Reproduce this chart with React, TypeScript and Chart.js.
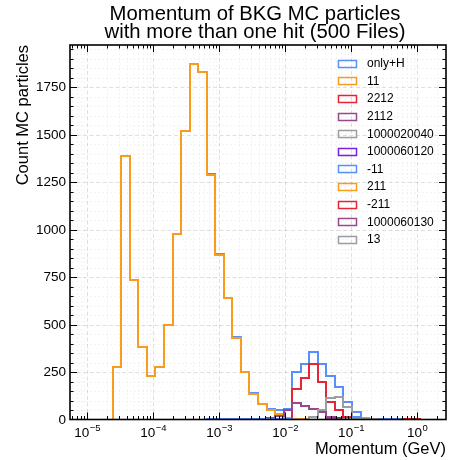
import React, { useEffect, useRef } from "react";
import { Chart, registerables } from "chart.js";

Chart.register(...registerables);

// ---- histogram binning (np.logspace-like) ----
const BIN_LOG_MIN = -5;
const BIN_LOG_MAX = 0.18;
const N_BINS = 40;

// ---- axis limits ----
const X_LOG_MIN = -5.259;
const X_LOG_MAX = 0.439;
const Y_MAX = 1972;

// ---- texts ----
const titleLines = ["Momentum of BKG MC particles", "with more than one hit (500 Files)"];
const xLabel = "Momentum (GeV)";
const yLabel = "Count MC particles";
const yTicks = [0, 250, 500, 750, 1000, 1250, 1500, 1750];
const xTickExponents = [-5, -4, -3, -2, -1, 0];

// ---- series ----
const seriesLabels = [
  "only+H", "11", "2212", "2112", "1000020040", "1000060120",
  "-11", "211", "-211", "1000060130", "13",
];
const seriesColors = [
  "#5790fc", "#f89c20", "#e42536", "#964a8b", "#9c9ca1", "#7a21dd",
  "#5790fc", "#f89c20", "#e42536", "#964a8b", "#9c9ca1",
];

// counts per bin (40 bins)
const countsOnlyH = [
  0, 0, 0, 279, 1389, 734, 381, 231, 278, 498,
  977, 1520, 1873, 1829, 1294, 871, 640, 433, 252, 137,
  81, 56, 50, 56, 252, 294, 356, 294, 228, 172,
  92, 38, 10, 3, 1, 1, 1, 5, 3, 0,
];
const counts11 = [
  0, 0, 0, 279, 1389, 734, 381, 231, 278, 498,
  977, 1520, 1873, 1829, 1288, 865, 638, 428, 250, 135,
  79, 52, 30, 6, 3, 1, 0, 0, 0, 0,
  0, 0, 0, 0, 0, 0, 0, 0, 0, 0,
];
const counts2212 = [
  0, 0, 0, 0, 0, 0, 0, 0, 0, 0,
  0, 0, 0, 0, 0, 0, 0, 0, 0, 0,
  0, 0, 0, 0, 163, 220, 290, 200, 90, 48,
  14, 3, 0, 0, 0, 0, 0, 4, 3, 0,
];
const counts2112 = [
  0, 0, 0, 0, 0, 0, 0, 0, 0, 0,
  0, 0, 0, 0, 0, 0, 0, 0, 0, 2,
  5, 8, 18, 48, 86, 72, 55, 40, 14, 4,
  2, 0, 0, 0, 0, 0, 0, 0, 0, 0,
];
const counts1000020040 = [
  0, 0, 0, 0, 0, 0, 0, 0, 0, 0,
  0, 0, 0, 0, 0, 0, 0, 0, 0, 0,
  0, 0, 0, 0, 0, 0, 12, 52, 114, 120,
  68, 14, 6, 2, 0, 0, 0, 0, 0, 0,
];
const counts1000060120 = [
  0, 0, 0, 0, 0, 0, 0, 0, 0, 0,
  0, 0, 0, 0, 0, 0, 0, 0, 0, 0,
  0, 0, 0, 0, 0, 0, 0, 0, 4, 6,
  3, 0, 0, 0, 0, 0, 0, 0, 0, 0,
];
const countsMinus11 = [
  0, 0, 0, 0, 0, 0, 0, 0, 0, 0,
  0, 0, 0, 0, 1, 2, 3, 4, 3, 2,
  2, 2, 2, 2, 0, 0, 0, 0, 0, 0,
  4, 12, 3, 0, 0, 0, 0, 0, 0, 0,
];
const counts211 = [
  0, 0, 0, 0, 0, 0, 0, 0, 0, 0,
  0, 0, 0, 0, 0, 0, 0, 0, 0, 0,
  0, 0, 0, 0, 0, 0, 0, 0, 0, 2,
  3, 4, 1, 0, 0, 0, 0, 0, 0, 0,
];
const countsMinus211 = [
  0, 0, 0, 0, 0, 0, 0, 0, 0, 0,
  0, 0, 0, 0, 0, 0, 0, 0, 0, 0,
  0, 0, 0, 0, 0, 0, 0, 0, 0, 1,
  2, 2, 0, 0, 0, 0, 0, 0, 0, 0,
];
const counts1000060130 = [
  0, 0, 0, 0, 0, 0, 0, 0, 0, 0,
  0, 0, 0, 0, 0, 0, 0, 0, 0, 0,
  0, 0, 0, 0, 0, 0, 0, 0, 1, 2,
  0, 0, 0, 0, 0, 0, 0, 0, 0, 0,
];
const counts13 = [
  0, 0, 0, 0, 0, 0, 0, 0, 0, 0,
  0, 0, 0, 0, 0, 0, 0, 0, 0, 0,
  0, 0, 0, 0, 0, 0, 0, 0, 0, 0,
  1, 3, 1, 0, 0, 0, 0, 0, 0, 0,
];

const allCounts = [
  countsOnlyH, counts11, counts2212, counts2112, counts1000020040, counts1000060120,
  countsMinus11, counts211, countsMinus211, counts1000060130, counts13,
];

const binEdges = Array.from({ length: N_BINS + 1 }, (_, k) =>
  Math.pow(10, BIN_LOG_MIN + ((BIN_LOG_MAX - BIN_LOG_MIN) * k) / N_BINS)
);

function stepPoints(counts: number[]) {
  const pts: { x: number; y: number }[] = [{ x: binEdges[0], y: 0 }];
  for (let k = 0; k < counts.length; k++) pts.push({ x: binEdges[k], y: counts[k] });
  pts.push({ x: binEdges[counts.length], y: 0 });
  return pts;
}

const FONT = '"Liberation Sans", Arial, Helvetica, sans-serif';

const customPlugin = {
  id: "mplLook",
  afterDatasetsUpdate(chart: any) {
    // snap step outlines to the pixel grid (like matplotlib's path snapping)
    chart.data.datasets.forEach((_: any, i: number) => {
      const meta = chart.getDatasetMeta(i);
      meta.data.forEach((p: any) => {
        p.x = Math.round(p.x);
        p.y = Math.round(p.y);
      });
    });
  },
  beforeDatasetsDraw(chart: any) {
    const { ctx, chartArea: a, scales } = chart;
    const x = scales.x, y = scales.y;
    ctx.save();
    // minor grid
    ctx.lineWidth = 0.7;
    ctx.strokeStyle = "rgba(0,0,0,0.07)";
    ctx.setLineDash([2, 2]);
    ctx.beginPath();
    for (let e = -6; e <= 1; e++) {
      for (let m = 2; m <= 9; m++) {
        const v = m * Math.pow(10, e);
        const px = Math.round(x.getPixelForValue(v)) + 0.5;
        if (px <= a.left || px >= a.right) continue;
        ctx.moveTo(px, a.top);
        ctx.lineTo(px, a.bottom);
      }
    }
    for (let v = 50; v < Y_MAX; v += 50) {
      if (v % 250 === 0) continue;
      const py = Math.round(y.getPixelForValue(v)) + 0.5;
      ctx.moveTo(a.left, py);
      ctx.lineTo(a.right, py);
    }
    ctx.stroke();
    // major grid
    ctx.lineWidth = 0.8;
    ctx.strokeStyle = "rgba(0,0,0,0.16)";
    ctx.setLineDash([4, 2.5]);
    ctx.beginPath();
    for (const e of xTickExponents) {
      const px = Math.round(x.getPixelForValue(Math.pow(10, e))) + 0.5;
      ctx.moveTo(px, a.top);
      ctx.lineTo(px, a.bottom);
    }
    for (const v of yTicks) {
      if (v === 0) continue;
      const py = Math.round(y.getPixelForValue(v)) + 0.5;
      ctx.moveTo(a.left, py);
      ctx.lineTo(a.right, py);
    }
    ctx.stroke();
    ctx.restore();
  },
  afterDraw(chart: any) {
    const { ctx, chartArea: a, scales } = chart;
    const x = scales.x, y = scales.y;
    ctx.save();
    ctx.setLineDash([]);
    ctx.strokeStyle = "#000";
    ctx.fillStyle = "#000";

    // ticks (inward, all four sides)
    const MAJ = 7, MIN = 3.5;
    ctx.lineWidth = 1;
    ctx.beginPath();
    for (let e = -6; e <= 1; e++) {
      for (let m = 1; m <= 9; m++) {
        const v = m * Math.pow(10, e);
        const px = Math.round(x.getPixelForValue(v)) + 0.5;
        if (px <= a.left || px >= a.right) continue;
        const len = m === 1 ? MAJ : MIN;
        ctx.moveTo(px, a.bottom);
        ctx.lineTo(px, a.bottom - len);
        ctx.moveTo(px, a.top);
        ctx.lineTo(px, a.top + len);
      }
    }
    for (let v = 50; v < Y_MAX; v += 50) {
      const py = Math.round(y.getPixelForValue(v)) + 0.5;
      const len = v % 250 === 0 ? MAJ : MIN;
      ctx.moveTo(a.left, py);
      ctx.lineTo(a.left + len, py);
      ctx.moveTo(a.right, py);
      ctx.lineTo(a.right - len, py);
    }
    ctx.stroke();

    // spines
    ctx.lineWidth = 1.6;
    ctx.strokeRect(a.left, a.top, a.right - a.left, a.bottom - a.top);

    // y tick labels
    ctx.font = `13.5px ${FONT}`;
    ctx.textAlign = "right";
    ctx.textBaseline = "middle";
    for (const v of yTicks) {
      ctx.fillText(String(v), a.left - 4, y.getPixelForValue(v) + 0.5);
    }

    // x tick labels 10^e
    ctx.textBaseline = "alphabetic";
    ctx.textAlign = "left";
    for (const e of xTickExponents) {
      const px = x.getPixelForValue(Math.pow(10, e));
      const base = "10";
      const exp = e < 0 ? "\u2212" + String(-e) : String(e);
      ctx.font = `13.5px ${FONT}`;
      const w1 = ctx.measureText(base).width;
      ctx.font = `9.5px ${FONT}`;
      const w2 = ctx.measureText(exp).width;
      const start = px - (w1 + w2) / 2;
      ctx.font = `13.5px ${FONT}`;
      ctx.fillText(base, start, a.bottom + 17);
      ctx.font = `9.5px ${FONT}`;
      ctx.fillText(exp, start + w1 + 0.5, a.bottom + 11);
    }

    // axis labels
    ctx.font = `16.5px ${FONT}`;
    ctx.textAlign = "right";
    ctx.textBaseline = "alphabetic";
    ctx.fillText(xLabel, a.right, 454);
    ctx.save();
    ctx.translate(28, a.top);
    ctx.rotate(-Math.PI / 2);
    ctx.fillText(yLabel, 0, 0);
    ctx.restore();

    // title
    ctx.font = `20.3px ${FONT}`;
    ctx.textAlign = "center";
    const cx = (a.left + a.right) / 2 - 3;
    ctx.fillText(titleLines[0], cx, 19.5);
    ctx.fillText(titleLines[1], cx, 37.5);

    // legend
    ctx.font = `12px ${FONT}`;
    ctx.textAlign = "left";
    ctx.textBaseline = "middle";
    ctx.lineWidth = 1.5;
    seriesLabels.forEach((lab, i) => {
      const cy = 63.3 + i * 17.6;
      ctx.strokeStyle = seriesColors[i];
      ctx.strokeRect(338.5, Math.round(cy - 3.5) + 0.5, 18, 7);
      ctx.fillStyle = "#000";
      ctx.fillText(lab, 367, cy + 0.5);
    });

    ctx.restore();
  },
};

export default function App() {
  const ref = useRef<HTMLCanvasElement>(null);
  useEffect(() => {
    const n = allCounts.length;
    const datasets = allCounts.map((counts, i) => ({
      label: seriesLabels[i],
      data: stepPoints(counts),
      borderColor: seriesColors[i],
      backgroundColor: seriesColors[i],
      borderWidth: 2,
      stepped: true,
      fill: false,
      pointRadius: 0,
      tension: 0,
      order: n - i,
    }));
    const chart = new Chart(ref.current as HTMLCanvasElement, {
      type: "line",
      data: { datasets } as any,
      options: {
        animation: false,
        responsive: false,
        events: [],
        layout: { padding: { left: 70, top: 45, right: 7, bottom: 40.5 } },
        plugins: {
          legend: { display: false },
          tooltip: { enabled: false },
          title: { display: false },
        },
        scales: {
          x: {
            type: "logarithmic",
            min: Math.pow(10, X_LOG_MIN),
            max: Math.pow(10, X_LOG_MAX),
            display: false,
          },
          y: { type: "linear", min: 0, max: Y_MAX, display: false },
        },
      } as any,
      plugins: [customPlugin],
    });
    return () => chart.destroy();
  }, []);
  return (
    <div style={{ position: "fixed", left: 0, top: 0, width: 453, height: 460, background: "#fff" }}>
      <canvas ref={ref} width={453} height={460} style={{ display: "block", width: 453, height: 460 }} />
    </div>
  );
}
